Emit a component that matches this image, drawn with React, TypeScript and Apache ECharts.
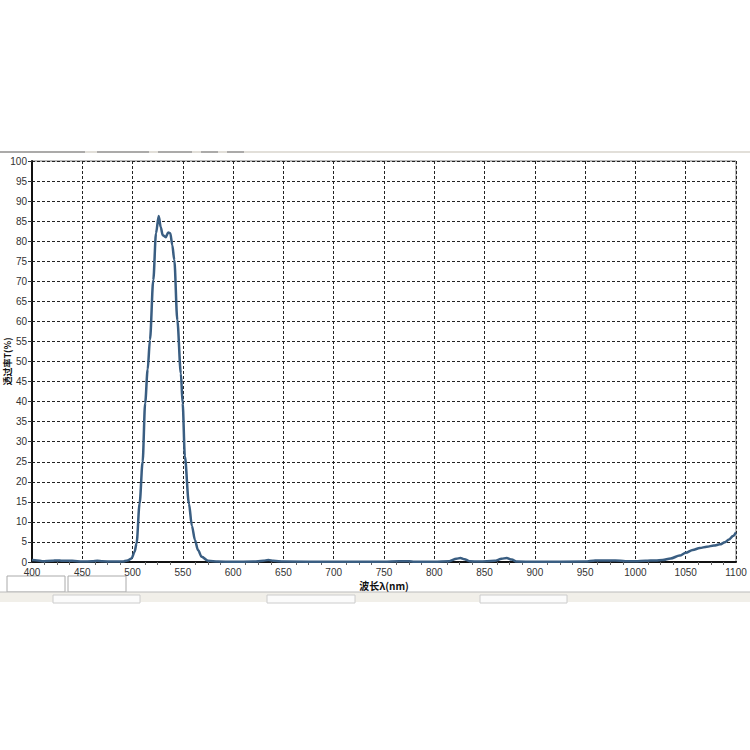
import React, { useEffect, useRef } from "react";
import * as echarts from "echarts";

const wavelengths = [
  400, 405, 410, 420, 425, 430, 440, 450, 460, 465, 470, 480, 490, 495, 499, 502, 504, 507, 510, 512.5,
  515, 517.3, 520.6, 523.3, 526, 528, 530, 533, 535.5, 537.5, 539.5, 541.5, 544.5, 548, 549.8, 552,
  556, 559, 562, 565, 568.7, 575, 585, 600, 620, 630, 635, 640, 650, 700, 750, 765, 775, 780, 800,
  815, 822, 826, 830, 835, 845, 860, 867, 872, 877, 882, 900, 950, 960, 980, 990, 1000, 1010, 1020,
  1027, 1035, 1044, 1050, 1057, 1064, 1071, 1078, 1084, 1089, 1093, 1097, 1100,
];
const transmission = [
  0.5, 0.4, 0.2, 0.3, 0.4, 0.3, 0.3, 0.1, 0.2, 0.3, 0.2, 0.1, 0.1, 0.4, 0.9, 2.5, 4.7, 14.6, 25, 39.6,
  48, 55.4, 70.3, 82, 86.3, 83.5, 81.5, 81, 82.2, 82, 79, 75.3, 60.3, 47, 39.6, 26.3,
  14.6, 9, 5.5, 3, 1.3, 0.3, 0.1, 0.05, 0.1, 0.3, 0.5, 0.3, 0.1, 0.05, 0.05, 0.2, 0.2, 0.05, 0.05,
  0.2, 0.8, 1, 0.7, 0.2, 0.1, 0.3, 0.8, 1, 0.6, 0.1, 0.05, 0.1, 0.4, 0.4, 0.2, 0.2, 0.3, 0.4,
  0.5, 0.9, 1.6, 2.3, 3, 3.5, 3.8, 4.1, 4.4, 4.9, 5.6, 6.5, 7.4,
];

const xAxisName = "波长λ(nm)";
const yAxisName = "透过率T(%)";

export default function App() {
  const ref = useRef<HTMLDivElement>(null);
  useEffect(() => {
    if (!ref.current) return;
    const chart = echarts.init(ref.current, undefined, { renderer: "svg" });
    const data = wavelengths.map((w, i) => [w, transmission[i]]);
    chart.setOption({
      animation: false,
      backgroundColor: "#ffffff",
      grid: {
        left: 32,
        right: 14,
        top: 161,
        bottom: 188,
        containLabel: false,
        outerBoundsMode: "none",
        show: true,
        borderColor: "#777",
        borderWidth: 1,
        backgroundColor: "transparent",
      },
      xAxis: {
        type: "value",
        min: 400,
        max: 1100,
        interval: 50,
        name: xAxisName,
        nameLocation: "middle",
        nameGap: 18,
        nameMoveOverlap: false,
        nameTextStyle: { fontFamily: "Noto Sans CJK SC", fontWeight: "bold", fontSize: 10, color: "#111" },
        axisLine: { show: true, lineStyle: { color: "#111", width: 2 } },
        axisTick: { show: false },
        minorTick: { show: true, splitNumber: 4, length: 3, lineStyle: { color: "#666" } },
        axisLabel: {
          fontFamily: "Liberation Sans",
          fontSize: 10,
          color: "#333",
          margin: 5,
          formatter: (v: number) => String(v),
        },
        splitLine: { show: true, lineStyle: { color: "#222", type: [3, 2], width: 1 } },
      },
      yAxis: {
        type: "value",
        min: 0,
        max: 100,
        interval: 5,
        name: yAxisName,
        nameLocation: "middle",
        nameGap: 20,
        nameRotate: 90,
        nameMoveOverlap: false,
        nameTextStyle: { fontFamily: "Noto Sans CJK SC", fontWeight: "bold", fontSize: 9, color: "#111" },
        axisLine: { show: true, lineStyle: { color: "#111", width: 2 } },
        axisTick: { show: true, length: 4, inside: false, lineStyle: { color: "#333" } },
        axisLabel: { fontFamily: "Liberation Sans", fontSize: 10, color: "#333", margin: 5 },
        splitLine: { show: true, lineStyle: { color: "#222", type: [3, 2], width: 1 } },
      },
      series: [
        {
          type: "line",
          data,
          smooth: 0.3,
          smoothMonotone: "x",
          showSymbol: false,
          lineStyle: { color: "#3a5e82", width: 2.5 },
          z: 5,
        },
      ],
      graphic: [
        { type: "line", shape: { x1: 0, y1: 152, x2: 750, y2: 152 }, style: { stroke: "#d8d4cc", lineWidth: 1.5 } },
        { type: "line", shape: { x1: 0, y1: 152, x2: 85, y2: 152 }, style: { stroke: "#999", lineWidth: 1.5 } },
        { type: "line", shape: { x1: 97, y1: 152, x2: 149, y2: 152 }, style: { stroke: "#999", lineWidth: 1.5 } },
        { type: "line", shape: { x1: 158, y1: 152, x2: 192, y2: 152 }, style: { stroke: "#999", lineWidth: 1.5 } },
        { type: "line", shape: { x1: 201, y1: 152, x2: 218, y2: 152 }, style: { stroke: "#999", lineWidth: 1.5 } },
        { type: "line", shape: { x1: 227, y1: 152, x2: 244, y2: 152 }, style: { stroke: "#999", lineWidth: 1.5 } },
        { type: "rect", shape: { x: 7, y: 576, width: 58, height: 16 }, style: { fill: "none", stroke: "#aaa", lineWidth: 1 } },
        { type: "rect", shape: { x: 68, y: 576, width: 58, height: 16 }, style: { fill: "none", stroke: "#aaa", lineWidth: 1 } },
        { type: "rect", shape: { x: 0, y: 592, width: 750, height: 10 }, style: { fill: "#f1efe9", stroke: "none" } },
        { type: "line", shape: { x1: 0, y1: 592, x2: 750, y2: 592 }, style: { stroke: "#bbb", lineWidth: 1 } },
        { type: "rect", shape: { x: 53, y: 595, width: 87, height: 8 }, style: { fill: "#fbfbfb", stroke: "#ccc", lineWidth: 1 } },
        { type: "rect", shape: { x: 267, y: 595, width: 88, height: 8 }, style: { fill: "#fbfbfb", stroke: "#ccc", lineWidth: 1 } },
        { type: "rect", shape: { x: 480, y: 595, width: 87, height: 8 }, style: { fill: "#fbfbfb", stroke: "#ccc", lineWidth: 1 } },
      ],
    });
    return () => chart.dispose();
  }, []);
  return <div ref={ref} style={{ width: 750, height: 750, position: "absolute", left: 0, top: 0 }} />;
}
